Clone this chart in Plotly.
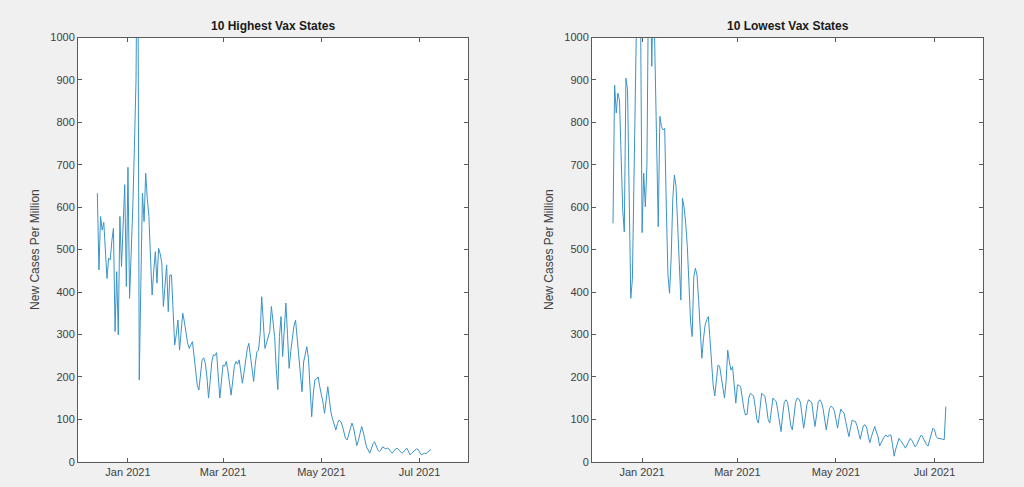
import pandas as pd
import plotly.graph_objects as go

# ---- data (daily new cases per million) ----
high_start = "2020-12-13"
high_vals = [
    633, 452, 578, 546, 564, 500, 432, 480, 476, 520, 550, 307, 448, 299, 578, 460, 560, 653, 413, 694,
    385, 480, 600, 740, 900, 1400, 193, 420, 633, 566, 680, 620, 578, 480, 393, 450, 495, 421, 503, 490,
    468, 366, 420, 464, 354, 440, 440, 360, 275, 300, 334, 263, 310, 350, 330, 299, 280, 267, 275, 283,
    250, 210, 180, 169, 210, 240, 245, 232, 200, 150, 190, 235, 252, 250, 257, 210, 150, 190, 228, 225,
    236, 215, 185, 157, 190, 225, 236, 230, 240, 215, 185, 210, 245, 265, 279, 250, 210, 189, 230, 259,
    263, 300, 389, 320, 267, 280, 295, 307, 366, 330, 295, 220, 170, 295, 342, 248, 300, 374, 300, 220,
    260, 287, 320, 334, 290, 263, 200, 165, 235, 250, 271, 244, 180, 106, 160, 193, 195, 200, 177, 160,
    140, 114, 150, 177, 145, 115, 100, 85, 75, 90, 98, 95, 85, 70, 55, 51, 65, 80, 91, 80,
    55, 38, 50, 70, 83, 70, 50, 35, 28, 20, 30, 42, 47, 38, 28, 24, 28, 35, 33, 30,
    32, 30, 24, 20, 25, 30, 32, 28, 22, 20, 23, 28, 32, 25, 16, 20, 24, 28, 30, 29,
    22, 16, 18, 20, 19, 22, 26, 29,
]

low_start = "2020-12-14"
low_vals = [
    562, 888, 822, 869, 853, 720, 594, 542, 904, 877, 640, 385, 430, 640, 880, 1150, 1250, 1100, 540,
    680, 601, 700, 1150, 1200, 932, 1150, 950, 750, 554, 814, 790, 782, 786, 600, 440, 397, 480, 620,
    676, 649, 560, 450, 381, 621, 600, 562, 507, 420, 330, 295, 436, 456, 440, 380, 300, 244, 290, 322,
    335, 342, 290, 230, 180, 155, 195, 228, 225, 200, 170, 150, 190, 263, 236, 216, 224, 170, 138, 181,
    180, 177, 150, 125, 110, 112, 150, 161, 158, 155, 130, 100, 91, 130, 161, 158, 155, 130, 100, 91,
    125, 150, 145, 142, 120, 90, 71, 110, 140, 146, 140, 115, 85, 75, 110, 140, 150, 148, 140, 110,
    79, 105, 135, 146, 143, 140, 110, 83, 110, 140, 146, 140, 125, 100, 75, 100, 125, 131, 128, 120,
    95, 79, 105, 124, 118, 115, 95, 75, 59, 80, 98, 96, 95, 85, 65, 53, 70, 85, 87, 80,
    60, 45, 60, 75, 83, 70, 60, 37, 45, 55, 60, 63, 58, 63, 63, 40, 13, 30, 45, 55,
    50, 45, 38, 32, 40, 50, 55, 50, 42, 35, 40, 50, 58, 63, 55, 45, 40, 37, 50, 65,
    79, 75, 60, 55, 55, 54, 53, 52, 130,
]

titles = ["10 Highest Vax States", "10 Lowest Vax States"]
y_label = "New Cases Per Million"
x_range = ["2020-12-01", "2021-07-31"]
x_tick_vals = ["2021-01-01", "2021-03-01", "2021-05-01", "2021-07-01"]
x_tick_text = ["Jan 2021", "Mar 2021", "May 2021", "Jul 2021"]
y_tick_vals = list(range(0, 1001, 100))

high_dates = pd.date_range(high_start, periods=len(high_vals), freq="D")
low_dates = pd.date_range(low_start, periods=len(low_vals), freq="D")

LINE = "#3b93c6"
AX = "#5a5a5a"
FONT = "Liberation Sans, Arial, sans-serif"

fig = go.Figure()
fig.add_trace(go.Scatter(x=high_dates, y=high_vals, mode="lines",
                         line=dict(color=LINE, width=1), xaxis="x", yaxis="y",
                         showlegend=False, hoverinfo="skip"))
fig.add_trace(go.Scatter(x=low_dates, y=low_vals, mode="lines",
                         line=dict(color=LINE, width=1), xaxis="x2", yaxis="y2",
                         showlegend=False, hoverinfo="skip"))

ydom = [25.3 / 487, 449.5 / 487]
dom1 = [78 / 1024, 468 / 1024]
dom2 = [592 / 1024, 983 / 1024]

xcommon = dict(type="date", range=x_range, tickvals=x_tick_vals, ticktext=x_tick_text,
               showgrid=False, zeroline=False, showline=True, linecolor=AX, linewidth=1,
               mirror="ticks", ticks="inside", ticklen=4, tickcolor=AX, automargin=False,
               tickfont=dict(family=FONT, size=11, color="#404040"))
ycommon = dict(range=[0, 1000], tickvals=y_tick_vals, showgrid=False, zeroline=False,
               showline=True, linecolor=AX, linewidth=1, mirror="ticks", ticks="inside",
               ticklen=4, tickcolor=AX, automargin=False,
               tickfont=dict(family=FONT, size=11, color="#404040"),
               title=dict(text=y_label, font=dict(family=FONT, size=12, color="#404040"), standoff=8))

fig.update_layout(
    template="none",
    width=1024, height=487, autosize=False,
    paper_bgcolor="#f0f0f0", plot_bgcolor="#ffffff",
    margin=dict(l=0, r=0, t=0, b=0, pad=0, autoexpand=False),
    xaxis=dict(domain=dom1, anchor="y", **xcommon),
    yaxis=dict(domain=ydom, anchor="x", **ycommon),
    xaxis2=dict(domain=dom2, anchor="y2", **xcommon),
    yaxis2=dict(domain=ydom, anchor="x2", **ycommon),
    annotations=[
        dict(text="<b>" + titles[0] + "</b>", x=sum(dom1) / 2, y=ydom[1], xref="paper", yref="paper",
             xanchor="center", yanchor="bottom", yshift=2, showarrow=False,
             font=dict(family=FONT, size=12, color="#1a1a1a")),
        dict(text="<b>" + titles[1] + "</b>", x=sum(dom2) / 2, y=ydom[1], xref="paper", yref="paper",
             xanchor="center", yanchor="bottom", yshift=2, showarrow=False,
             font=dict(family=FONT, size=12, color="#1a1a1a")),
    ],
)

fig.write_html(
    "out.html",
    config={"displayModeBar": False},
    post_script="document.body.style.margin='0';document.body.style.overflow='hidden';"
                "document.body.style.background='#f0f0f0';",
)
